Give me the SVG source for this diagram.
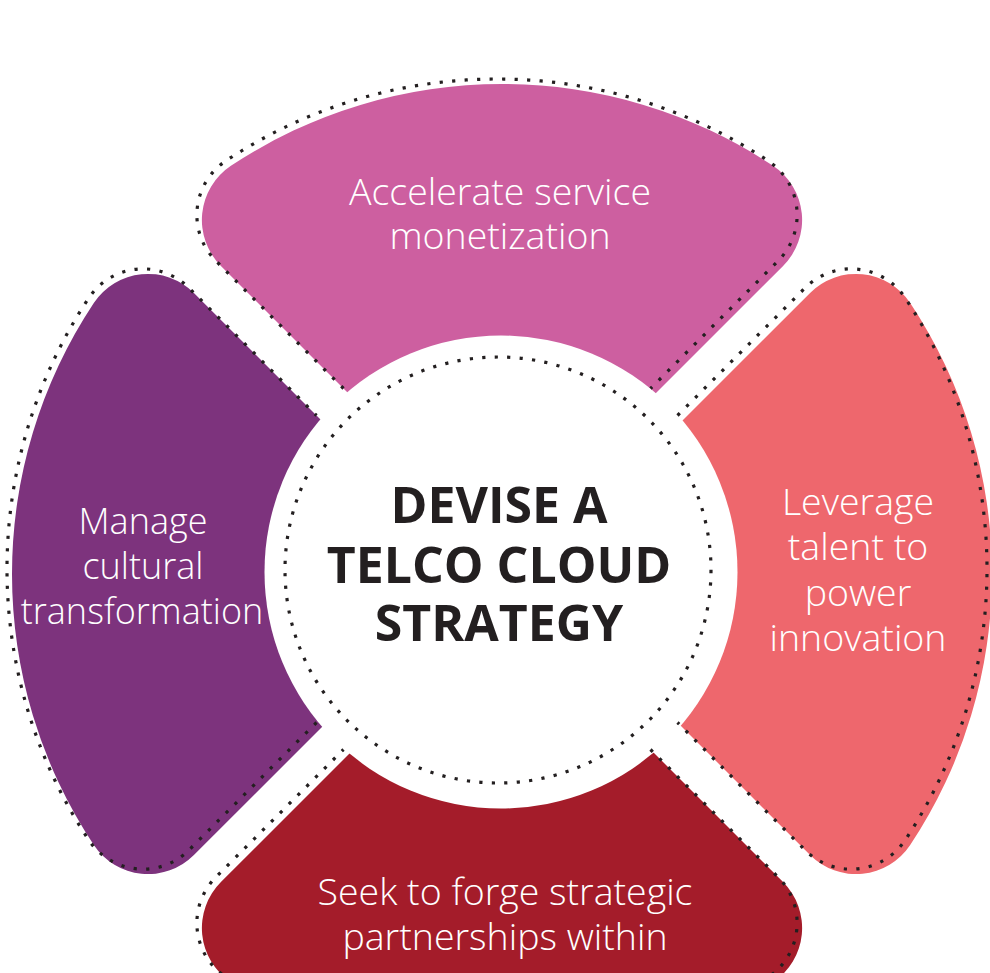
<svg xmlns="http://www.w3.org/2000/svg" width="990" height="973" viewBox="0 0 990 973">
  <style>
    .lbl { font-family: "Open Sans", "Liberation Sans", sans-serif; font-weight: 300; font-size: 37.5px; fill: #ffffff; text-anchor: middle; }
    .lbl-s { font-size: 36px; }
    .title { font-family: "Open Sans", "Liberation Sans", sans-serif; font-weight: 700; font-size: 50px; fill: #231f20; text-anchor: middle; }
    .dots { fill: none; stroke: #231f20; stroke-width: 3.2; stroke-dasharray: 3.2 9.3; }
  </style>
  <defs>
    <path id="petalShape" d="M -127.5,-154.5 L -281.08,-308.08 A 65 65 0 0 1 -271.08,-408.19 A 490 490 0 0 1 271.08,-408.19 A 65 65 0 0 1 281.08,-308.08 L 127.5,-154.5 Z"/>
    <path id="petalEdge" d="M -153.5,-180.5 L -281.08,-308.08 A 65 65 0 0 1 -271.08,-408.19 A 490 490 0 0 1 271.08,-408.19 A 65 65 0 0 1 281.08,-308.08 L 153.5,-180.5"/>
  </defs>
  <rect width="990" height="973" fill="#ffffff"/>

  <g id="petal-top">
    <use href="#petalShape" transform="translate(502,574)" fill="#cd5fa0"/>
  </g>
  <g id="petal-right">
    <use href="#petalShape" transform="translate(502,574) rotate(90)" fill="#ee676d"/>
  </g>
  <g id="petal-bottom">
    <use href="#petalShape" transform="translate(502,574) rotate(180)" fill="#a41c2a"/>
  </g>
  <g id="petal-left">
    <use href="#petalShape" transform="translate(502,574) rotate(270)" fill="#7d337d"/>
  </g>

  <g id="center">
    <circle cx="501" cy="572" r="236.5" fill="#ffffff"/>
    <circle class="dots" cx="498" cy="570" r="213"/>
  </g>

  <g id="outlines">
    <use href="#petalEdge" class="dots" transform="translate(497,569)"/>
    <use href="#petalEdge" class="dots" transform="translate(497,569) rotate(90)"/>
    <use href="#petalEdge" class="dots" transform="translate(497,569) rotate(180)"/>
    <use href="#petalEdge" class="dots" transform="translate(497,569) rotate(270)"/>
  </g>

  <g id="labels">
    <text class="lbl" x="500" y="205">Accelerate service</text>
    <text class="lbl" x="500" y="249">monetization</text>

    <text class="lbl" x="858" y="515">Leverage</text>
    <text class="lbl" x="858" y="560">talent to</text>
    <text class="lbl" x="858" y="606">power</text>
    <text class="lbl" x="858" y="651">innovation</text>

    <text class="lbl lbl-s" x="143" y="534">Manage</text>
    <text class="lbl lbl-s" x="143" y="579">cultural</text>
    <text class="lbl lbl-s" x="142" y="624">transformation</text>

    <text class="lbl" x="505" y="905">Seek to forge strategic</text>
    <text class="lbl" x="505" y="950">partnerships within</text>

    <text class="title" x="499" y="523">DEVISE A</text>
    <text class="title" x="499" y="583">TELCO CLOUD</text>
    <text class="title" x="499" y="641">STRATEGY</text>
  </g>
</svg>
